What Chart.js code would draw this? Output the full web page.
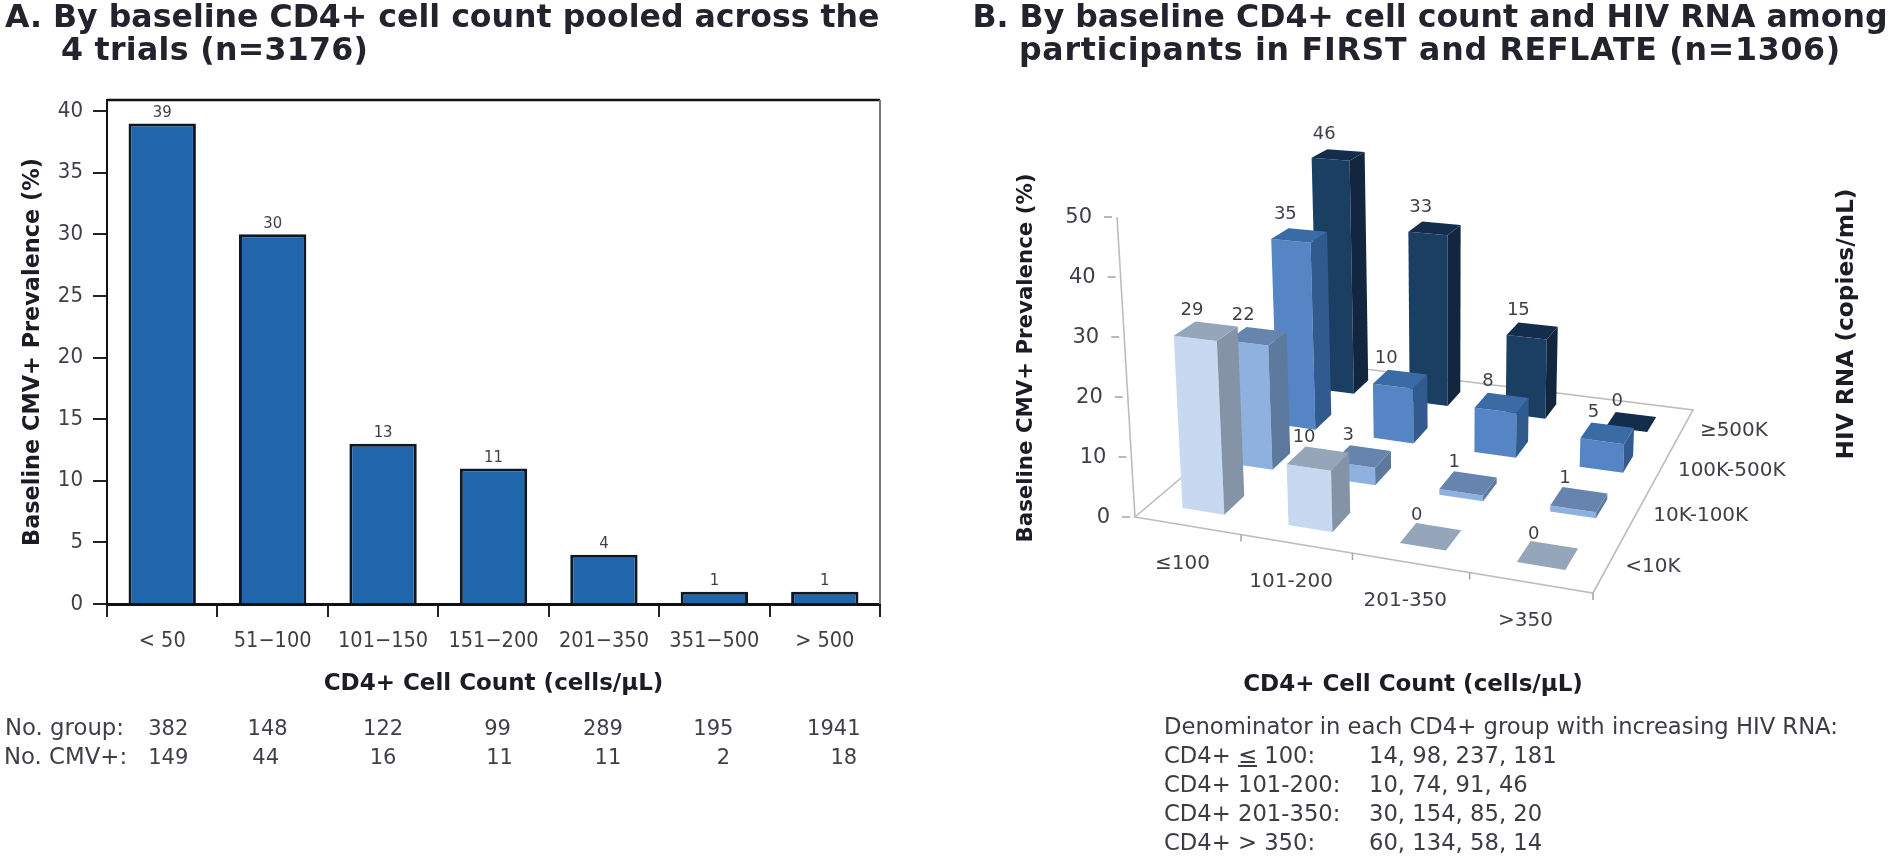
<!DOCTYPE html>
<html>
<head>
<meta charset="utf-8">
<title>Baseline CMV+ prevalence</title>
<script src="https://cdn.jsdelivr.net/npm/chart.js@4"></script>
<style>
  html, body { margin: 0; background: #fff; overflow: hidden; }
  #page { position: relative; width: 1900px; height: 856px; filter: blur(0.65px); }
  canvas { position: absolute; top: 0; }
  #chartA { left: 0; }
  #chartB { left: 950px; }
  .heading { position: absolute; font: bold 31.6px/33px "DejaVu Sans", sans-serif; color: #23232e; white-space: nowrap; }
  #headA { left: 5px; top: 0; }
  #headA span { display: block; padding-left: 56px; letter-spacing: 0.3px; }
  #headB { left: 930px; width: 1000px; top: 0; text-align: center; }
  #headB span { letter-spacing: 0.75px; }
  #notes { position: absolute; left: 1164px; top: 712px; font: 22.7px/29px "DejaVu Sans", sans-serif; color: #3c3c44; white-space: nowrap; }
  #notes b { font-weight: normal; display: inline-block; width: 205px; }
</style>
</head>
<body>
<div id="page">
  <canvas id="chartA" width="950" height="856"></canvas>
  <canvas id="chartB" width="950" height="856"></canvas>
  <div class="heading" id="headA">A. By baseline CD4+ cell count pooled across the<span>4 trials (n=3176)</span></div>
  <div class="heading" id="headB">B. By baseline CD4+ cell count and HIV RNA among<br><span>participants in FIRST and REFLATE (n=1306)</span></div>
  <div id="notes">
    Denominator in each CD4+ group with increasing HIV RNA:<br>
    <b>CD4+ <u>≤</u> 100:</b>14, 98, 237, 181<br>
    <b>CD4+ 101-200:</b>10, 74, 91, 46<br>
    <b>CD4+ 201-350:</b>30, 154, 85, 20<br>
    <b>CD4+ &gt; 350:</b>60, 134, 58, 14
  </div>
</div>

<script>
// Panel A
const cd4Groups = ["< 50", "51−100", "101−150", "151−200", "201−350", "351−500", "> 500"];
const prevalence = [39, 30, 13, 11, 4, 1, 1];
const groupCounts = [382, 148, 122, 99, 289, 195, 1941];
const cmvCounts = [149, 44, 16, 11, 11, 2, 18];

// Panel B, one list per HIV RNA level, front row first
const cd4Bins = ["≤100", "101-200", "201-350", ">350"];
const rnaLevels = ["<10K", "10K-100K", "100K-500K", "≥500K"];
const prevRnaLt10k = [29, 10, 0, 0];
const prevRna10k100k = [22, 3, 1, 1];
const prevRna100k500k = [35, 10, 8, 5];
const prevRnaGe500k = [46, 33, 15, 0];

const SANS = '"DejaVu Sans", sans-serif';
const NARROW = '"DejaVu Sans Condensed", "DejaVu Sans", sans-serif';
const TEXT = "#3f3f48";
const DARK = "#1c1c24";

// The table columns under panel A don't sit exactly under the bars in the original
const groupNudge = [6, -5, 0, 4, -1, -1, 9];
const cmvNudge = [6, -7, 0, 6, 4, 9, 19];

const panelAExtras = {
  id: "panelAExtras",
  afterDatasetsDraw(chart) {
    const { ctx, chartArea: a, scales: { x } } = chart;
    ctx.save();
    // frame top and right, the scales only give left and bottom
    ctx.strokeStyle = "#111";
    ctx.lineWidth = 2.5;
    ctx.beginPath();
    ctx.moveTo(a.left, a.top);
    ctx.lineTo(a.right, a.top);
    ctx.stroke();
    ctx.strokeStyle = "#777";
    ctx.lineWidth = 2;
    ctx.beginPath();
    ctx.moveTo(a.right, a.top);
    ctx.lineTo(a.right, a.bottom);
    ctx.stroke();

    // value labels
    ctx.fillStyle = TEXT;
    ctx.font = "16.5px " + NARROW;
    ctx.textAlign = "center";
    ctx.textBaseline = "middle";
    chart.getDatasetMeta(0).data.forEach((bar, i) => {
      ctx.fillText(prevalence[i], bar.x, bar.y - 11);
    });

    // count rows
    ctx.font = "21px " + SANS;
    groupCounts.forEach((n, i) => ctx.fillText(n, x.getPixelForValue(i) + groupNudge[i], 729.5));
    cmvCounts.forEach((n, i) => ctx.fillText(n, x.getPixelForValue(i) + cmvNudge[i], 758.5));
    ctx.textAlign = "left";
    ctx.font = "22.8px " + SANS;
    ctx.fillText("No. group:", 5, 729.5);
    ctx.fillText("No. CMV+:", 4, 758.5);
    ctx.restore();
  },
};

new Chart(document.getElementById("chartA"), {
  type: "bar",
  data: {
    labels: cd4Groups,
    datasets: [{
      data: prevalence,
      backgroundColor: "#1f66aa",
      borderColor: "#0f1822",
      borderWidth: 3,
      categoryPercentage: 1,
      barPercentage: 0.61,
    }],
  },
  options: {
    responsive: false,
    animation: false,
    layout: { padding: { top: 100, bottom: 158, right: 70, left: 0 } },
    plugins: { legend: { display: false }, tooltip: { enabled: false } },
    scales: {
      x: {
        afterFit: (s) => { s.height = 94; },
        grid: { drawOnChartArea: false, tickLength: 13, color: "#222", lineWidth: 2 },
        border: { color: "#111", width: 3 },
        ticks: { color: TEXT, font: { family: NARROW, size: 21.5 }, padding: 12, maxRotation: 0 },
        title: {
          display: true, text: "CD4+ Cell Count (cells/µL)", color: DARK,
          font: { family: SANS, size: 23, weight: "bold" }, padding: { top: 0, bottom: 0 },
        },
      },
      y: {
        min: 0,
        max: 40.9,
        afterFit: (s) => { s.width = 107; },
        grid: { drawOnChartArea: false, tickLength: 14, color: "#222", lineWidth: 2 },
        border: { color: "#111", width: 2 },
        ticks: { stepSize: 5, includeBounds: false, color: TEXT, font: { family: NARROW, size: 22 }, padding: 10 },
        title: {
          display: true, text: "Baseline CMV+ Prevalence (%)", color: DARK,
          font: { family: SANS, size: 22.4, weight: "bold" }, padding: { top: 20, bottom: 0 },
        },
      },
    },
  },
  plugins: [panelAExtras],
});

// Panel B: perspective view of a floor grid. Floor corners in canvas pixels:
// front-left, front-right, back-right, back-left.
const FLOOR = [[185, 517], [643, 593], [743, 410], [367, 363]];
const LEAN_CENTER = 500;  // verticals lean away from this x, they converge far above
const LEAN = 0.00019;
const BAR_HALF = 0.05;    // half a bar width, as a fraction of the floor

const floorMap = (() => {
  const [[x0, y0], [x1, y1], [x2, y2], [x3, y3]] = FLOOR;
  const dx1 = x1 - x2, dx2 = x3 - x2, sx = x0 - x1 + x2 - x3;
  const dy1 = y1 - y2, dy2 = y3 - y2, sy = y0 - y1 + y2 - y3;
  const den = dx1 * dy2 - dx2 * dy1;
  const g = (sx * dy2 - dx2 * sy) / den;
  const h = (dx1 * sy - sx * dy1) / den;
  return { a: x1 - x0 + g * x1, b: x3 - x0 + h * x3, c: x0, d: y1 - y0 + g * y1, e: y3 - y0 + h * y3, f: y0, g, h };
})();

// u, v are floor fractions, px is a height taken off the value scale at the front corner
function project(u, v, px) {
  const m = floorMap;
  const w = 1 + m.g * u + m.h * v;
  const bx = (m.a * u + m.b * v + m.c) / w;
  const by = (m.d * u + m.e * v + m.f) / w;
  const up = px / w;
  return { x: bx + (bx - LEAN_CENTER) * LEAN * up, y: by - up };
}

function fillPoly(ctx, pts, color) {
  ctx.fillStyle = color;
  ctx.beginPath();
  pts.forEach((p, i) => (i ? ctx.lineTo(p.x, p.y) : ctx.moveTo(p.x, p.y)));
  ctx.closePath();
  ctx.fill();
}

const floorU = (chart, i) => (chart.scales.x.getPixelForValue(i) - chart.scales.x.left) / chart.scales.x.width;
const floorV = (chart, j) => (chart.scales.z.getPixelForValue(j) - chart.scales.z.left) / chart.scales.z.width;
const valuePx = (chart, val) => chart.scales.y.bottom - chart.scales.y.getPixelForValue(val);

const rowFaces = [
  { front: "#c6d9f0", side: "#8494a6", top: "#95a5ba" },
  { front: "#8eb1df", side: "#5d7a9e", top: "#6684ae" },
  { front: "#5585c5", side: "#315a8e", top: "#3b6ba5" },
  { front: "#1b3e63", side: "#12263f", top: "#142d4c" },
];

class Bar3DController extends Chart.BarController {
  draw() {
    const chart = this.chart;
    const ctx = chart.ctx;
    const faces = rowFaces[this.index];
    const vals = this.getDataset().data;
    const v = floorV(chart, this.index);
    // right to left, a bar's side face overlaps its right neighbour
    for (let i = vals.length - 1; i >= 0; i--) {
      const u = floorU(chart, i);
      const px = valuePx(chart, vals[i]);
      const l = u - BAR_HALF, r = u + BAR_HALF, f = v - BAR_HALF, b = v + BAR_HALF;
      const top = [project(l, f, px), project(r, f, px), project(r, b, px), project(l, b, px)];
      if (px > 0) {
        fillPoly(ctx, [project(l, f, 0), project(r, f, 0), top[1], top[0]], faces.front);
        fillPoly(ctx, [project(r, f, 0), project(r, b, 0), top[2], top[1]], faces.side);
      }
      fillPoly(ctx, top, faces.top);
    }
  }
}
Bar3DController.id = "bar3d";
Bar3DController.defaults = Chart.BarController.defaults;
Bar3DController.overrides = Chart.BarController.overrides;
Chart.register(Bar3DController);

const panelBFloor = {
  id: "panelBFloor",
  beforeDatasetsDraw(chart) {
    const { ctx, scales: { y, x } } = chart;
    ctx.save();
    ctx.strokeStyle = "#bdbdbd";
    ctx.lineWidth = 1.6;
    ctx.beginPath();
    FLOOR.forEach((p, i) => (i ? ctx.lineTo(p[0], p[1]) : ctx.moveTo(p[0], p[1])));
    ctx.closePath();
    ctx.stroke();

    // value axis, on the front-left corner
    const foot = project(0, 0, 0);
    const head = project(0, 0, y.height);
    ctx.beginPath();
    ctx.moveTo(foot.x, foot.y);
    ctx.lineTo(head.x, head.y);
    ctx.stroke();

    ctx.font = "21px " + SANS;
    ctx.textBaseline = "middle";
    ctx.textAlign = "right";
    y.ticks.forEach((t) => {
      const p = project(0, 0, valuePx(chart, t.value));
      ctx.strokeStyle = "#a8a8a8";
      ctx.beginPath();
      ctx.moveTo(p.x - 5, p.y);
      ctx.lineTo(p.x - 13, p.y);
      ctx.stroke();
      ctx.fillStyle = TEXT;
      ctx.fillText(t.label, p.x - 25, p.y + 1);
    });

    // front edge ticks and CD4+ labels
    ctx.font = "20px " + SANS;
    ctx.textAlign = "center";
    x.ticks.forEach((t, i) => {
      const e = project((x.getPixelForValue(i) - x.left) / x.width + 0.125, 0, 0);
      ctx.strokeStyle = "#a8a8a8";
      ctx.beginPath();
      ctx.moveTo(e.x, e.y);
      ctx.lineTo(e.x, e.y + 7);
      ctx.stroke();
      const c = project(floorU(chart, i), 0, 0);
      ctx.fillStyle = TEXT;
      ctx.fillText(cd4Bins[i], c.x - 5, c.y + 38);
    });

    // right edge HIV RNA labels
    ctx.textAlign = "left";
    rnaLevels.forEach((name, j) => {
      const c = project(1, floorV(chart, j), 0);
      ctx.fillText(name, c.x + 17, c.y + 2);
    });

    // axis titles
    ctx.fillStyle = DARK;
    ctx.textAlign = "center";
    ctx.font = "bold 23px " + SANS;
    ctx.fillText("CD4+ Cell Count (cells/µL)", 463, 685);
    [["Baseline CMV+ Prevalence (%)", 76, 358, 21.3], ["HIV RNA (copies/mL)", 897, 324, 23.3]].forEach(([s, tx, ty, size]) => {
      ctx.save();
      ctx.font = "bold " + size + "px " + SANS;
      ctx.translate(tx, ty);
      ctx.rotate(-Math.PI / 2);
      ctx.fillText(s, 0, 0);
      ctx.restore();
    });
    ctx.restore();
  },
  afterDatasetsDraw(chart) {
    const { ctx } = chart;
    ctx.save();
    ctx.fillStyle = TEXT;
    ctx.font = "18px " + SANS;
    ctx.textAlign = "center";
    ctx.textBaseline = "middle";
    chart.data.datasets.forEach((ds, j) => {
      ds.data.forEach((val, i) => {
        const p = project(floorU(chart, i), floorV(chart, j), valuePx(chart, val));
        ctx.fillText(val, p.x - 14, p.y - 21);
      });
    });
    ctx.restore();
  },
};

new Chart(document.getElementById("chartB"), {
  data: {
    labels: cd4Bins,
    datasets: [prevRnaLt10k, prevRna10k100k, prevRna100k500k, prevRnaGe500k].map((values, j) => ({
      type: "bar3d",
      label: rnaLevels[j],
      data: values,
      clip: false,
    })),
  },
  options: {
    responsive: false,
    animation: false,
    layout: { padding: { top: 217, bottom: 339, left: 0, right: 0 } },
    plugins: { legend: { display: false }, tooltip: { enabled: false } },
    scales: {
      x: { type: "category", offset: true, display: false },
      z: { type: "category", axis: "x", labels: rnaLevels, offset: true, display: false },
      y: { min: 0, max: 50, display: false, ticks: { stepSize: 10 } },
    },
  },
  plugins: [panelBFloor],
});
</script>
</body>
</html>
